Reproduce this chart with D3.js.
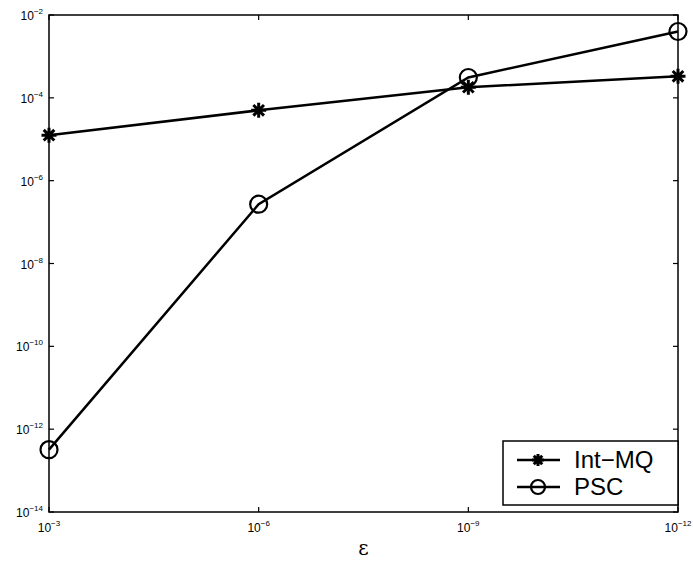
<!DOCTYPE html>
<html>
<head>
<meta charset="utf-8">
<script src="https://cdn.jsdelivr.net/npm/d3@7"></script>
<style>
body{margin:0;background:#fff;}
svg{display:block;font-family:"Liberation Sans",Arial,sans-serif;}
</style>
</head>
<body>
<div id="chart"></div>
<script>
// eps values on x (log, decreasing to the right)
var epsVals=[1e-3,1e-6,1e-9,1e-12];
var intMQ=[1.25e-5,5.0e-5,1.8e-4,3.3e-4];
var psc=[3.2e-13,2.7e-7,3.1e-4,4.0e-3];
var xTickExp=[-3,-6,-9,-12];
var yTickExp=[-2,-4,-6,-8,-10,-12,-14];

var W=693,H=567;
var m={l:49,r:15,t:15,b:55};

var svg=d3.select("#chart").append("svg")
    .attr("width",W).attr("height",H);

var x=d3.scaleLog().domain([1e-3,1e-12]).range([m.l,W-m.r]);
var y=d3.scaleLog().domain([1e-14,1e-2]).range([H-m.b,m.t]);

var g=svg.append("g");

// axes box
g.append("rect")
    .attr("x",m.l).attr("y",m.t)
    .attr("width",W-m.r-m.l).attr("height",H-m.b-m.t)
    .attr("fill","none").attr("stroke","#000").attr("stroke-width",1.5);

// ticks (inward, both sides)
var tl=5;
xTickExp.forEach(function(e){
    var px=x(Math.pow(10,e));
    g.append("line").attr("x1",px).attr("x2",px).attr("y1",H-m.b).attr("y2",H-m.b-tl).attr("stroke","#000").attr("stroke-width",1.2);
    g.append("line").attr("x1",px).attr("x2",px).attr("y1",m.t).attr("y2",m.t+tl).attr("stroke","#000").attr("stroke-width",1.2);
    var t=g.append("text").attr("x",px).attr("y",H-m.b+20).attr("text-anchor","middle").attr("font-size",12);
    t.append("tspan").text("10");
    t.append("tspan").attr("dy",-6).attr("font-size",8).text("\u2212"+(-e));
});
yTickExp.forEach(function(e){
    var py=y(Math.pow(10,e));
    g.append("line").attr("x1",m.l).attr("x2",m.l+tl).attr("y1",py).attr("y2",py).attr("stroke","#000").attr("stroke-width",1.2);
    g.append("line").attr("x1",W-m.r).attr("x2",W-m.r-tl).attr("y1",py).attr("y2",py).attr("stroke","#000").attr("stroke-width",1.2);
    var t=g.append("text").attr("x",m.l-6).attr("y",py+5).attr("text-anchor","end").attr("font-size",12);
    t.append("tspan").text("10");
    t.append("tspan").attr("dy",-6).attr("font-size",8).text("\u2212"+(-e));
});

// x label
svg.append("text").attr("x",(m.l+W-m.r)/2).attr("y",H-12)
    .attr("text-anchor","middle").attr("font-size",20)
    .attr("font-family","'DejaVu Serif',serif").text("\u03b5");

var line=d3.line()
    .x(function(d){return x(d[0]);})
    .y(function(d){return y(d[1]);});

function starPath(cx,cy,r){
    var p="";
    for(var i=0;i<4;i++){
        var a=i*Math.PI/4;
        p+="M"+(cx-r*Math.cos(a))+","+(cy-r*Math.sin(a))+"L"+(cx+r*Math.cos(a))+","+(cy+r*Math.sin(a));
    }
    return p;
}

var mqData=epsVals.map(function(v,i){return [v,intMQ[i]];});
var pscData=epsVals.map(function(v,i){return [v,psc[i]];});

g.append("path").datum(mqData).attr("d",line)
    .attr("fill","none").attr("stroke","#000").attr("stroke-width",2.5);
g.append("path").datum(pscData).attr("d",line)
    .attr("fill","none").attr("stroke","#000").attr("stroke-width",2.5);

g.selectAll(".star").data(mqData).enter().append("path")
    .attr("d",function(d){return starPath(x(d[0]),y(d[1]),7.5);})
    .attr("stroke","#000").attr("stroke-width",3);

g.selectAll(".circ").data(pscData).enter().append("circle")
    .attr("cx",function(d){return x(d[0]);})
    .attr("cy",function(d){return y(d[1]);})
    .attr("r",8.5)
    .attr("fill","none").attr("stroke","#000").attr("stroke-width",2.2);

// legend
var lg=svg.append("g");
lg.append("rect").attr("x",503).attr("y",441).attr("width",W-m.r-503).attr("height",64)
    .attr("fill","#fff").attr("stroke","#000").attr("stroke-width",1.5);
lg.append("line").attr("x1",517).attr("x2",560).attr("y1",460).attr("y2",460).attr("stroke","#000").attr("stroke-width",2.5);
lg.append("path").attr("d",starPath(538,460,6)).attr("stroke","#000").attr("stroke-width",3);
lg.append("text").attr("x",574).attr("y",468).attr("font-size",24).text("Int\u2212MQ");
lg.append("line").attr("x1",517).attr("x2",560).attr("y1",487).attr("y2",487).attr("stroke","#000").attr("stroke-width",2.5);
lg.append("circle").attr("cx",538).attr("cy",487).attr("r",7).attr("fill","none").attr("stroke","#000").attr("stroke-width",2.2);
lg.append("text").attr("x",574).attr("y",495).attr("font-size",24).text("PSC");
</script>
</body>
</html>
